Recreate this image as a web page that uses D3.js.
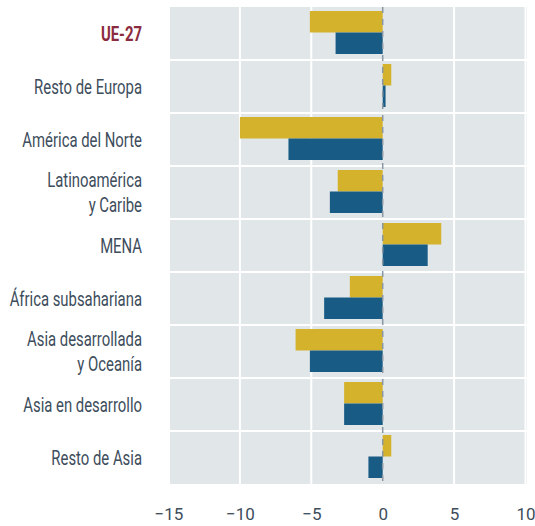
<!DOCTYPE html>
<html>
<head>
<meta charset="utf-8">
<script src="https://cdn.jsdelivr.net/npm/d3@7"></script>
<style>
  body { margin: 0; background: #fff; }
  svg text { font-family: "Roboto", "Noto Sans", sans-serif; }
</style>
</head>
<body>
<div id="chart"></div>
<script>
// data
var regions = ["UE-27", "Resto de Europa", "América del Norte", "Latinoamérica\ny Caribe", "MENA",
  "África subsahariana", "Asia desarrollada\ny Oceanía", "Asia en desarrollo", "Resto de Asia"];
var serieA = [-5.1, 0.6, -10.0, -3.15, 4.1, -2.3, -6.1, -2.7, 0.6];   // amarillo
var serieB = [-3.3, 0.2, -6.6, -3.7, 3.15, -4.1, -5.1, -2.7, -1.0];   // azul
var xTicks = [-15, -10, -5, 0, 5, 10];

var width = 535, height = 526;
var margin = { top: 7, right: 8, bottom: 42, left: 170 };
var innerW = width - margin.left - margin.right;
var innerH = height - margin.top - margin.bottom;

var svg = d3.select("#chart").append("svg")
    .attr("width", width).attr("height", height)
  .append("g")
    .attr("transform", "translate(" + margin.left + "," + margin.top + ")");

var x = d3.scaleLinear().domain([-15, 10]).range([-1.5, innerW - 1.5]);
var y = d3.scaleBand().domain(regions).range([0, innerH]);
var sub = d3.scaleBand().domain(["a", "b"]).range([4, y.bandwidth() - 6]);

// fondo
svg.append("rect").attr("width", innerW).attr("height", innerH).attr("fill", "#e1e6e9");

// grid vertical
svg.selectAll(".vg").data(xTicks.filter(function(d) { return d !== 0; })).enter().append("line")
  .attr("x1", function(d) { return x(d); }).attr("x2", function(d) { return x(d); })
  .attr("y1", 0).attr("y2", innerH)
  .attr("stroke", "#fff").attr("stroke-width", 2);

// separadores horizontales
svg.selectAll(".hg").data(regions.slice(1)).enter().append("line")
  .attr("x1", 0).attr("x2", innerW)
  .attr("y1", function(d) { return y(d); }).attr("y2", function(d) { return y(d); })
  .attr("stroke", "#fff").attr("stroke-width", 2);

// barras
function bars(values, key, color) {
  svg.selectAll(".bar-" + key).data(values).enter().append("rect")
    .attr("x", function(d) { return x(Math.min(0, d)); })
    .attr("width", function(d) { return Math.abs(x(d) - x(0)); })
    .attr("y", function(d, i) { return y(regions[i]) + sub(key); })
    .attr("height", sub.bandwidth())
    .attr("fill", color);
}
bars(serieA, "a", "#d4b22b");
bars(serieB, "b", "#185b85");

// linea cero
svg.append("line")
  .attr("x1", x(0)).attr("x2", x(0)).attr("y1", 0).attr("y2", innerH)
  .attr("stroke", "#8a97a2").attr("stroke-width", 1.5).attr("stroke-dasharray", "6,6");

// etiquetas de regiones (fuente condensada simulada con escala horizontal)
var labels = svg.selectAll(".lbl").data(regions).enter().append("text")
  .attr("text-anchor", "end")
  .attr("font-size", 20)
  .attr("fill", function(d, i) { return i === 0 ? "#8b2b40" : "#3d4d5c"; })
  .attr("font-weight", function(d, i) { return i === 0 ? "bold" : "normal"; });

labels.each(function(d) {
  var lines = d.split("\n");
  var t = d3.select(this);
  lines.forEach(function(l, j) {
    t.append("tspan").attr("x", 0)
      .attr("y", (j - (lines.length - 1) / 2) * 26)
      .attr("dy", "0.35em").text(l);
  });
});

// "Resto de Europa" mide ~108px en la referencia
var refLen = labels.filter(function(d) { return d === "Resto de Europa"; }).node().getComputedTextLength();
var sx = 108 / refLen;
labels.attr("transform", function(d) {
  return "translate(-28," + (y(d) + y.bandwidth() / 2) + ") scale(" + sx + ",1)";
});

// eje x
var xAxis = svg.append("g")
  .attr("transform", "translate(0," + innerH + ")")
  .call(d3.axisBottom(x).tickValues(xTicks).tickSize(0).tickPadding(24)
    .tickFormat(function(d) { return d < 0 ? "\u2212" + Math.abs(d) : d; }));
xAxis.select(".domain").remove();
xAxis.selectAll("text").attr("font-size", 17).attr("fill", "#3d4d5c")
  .style("font-family", "Roboto, sans-serif");
</script>
</body>
</html>
